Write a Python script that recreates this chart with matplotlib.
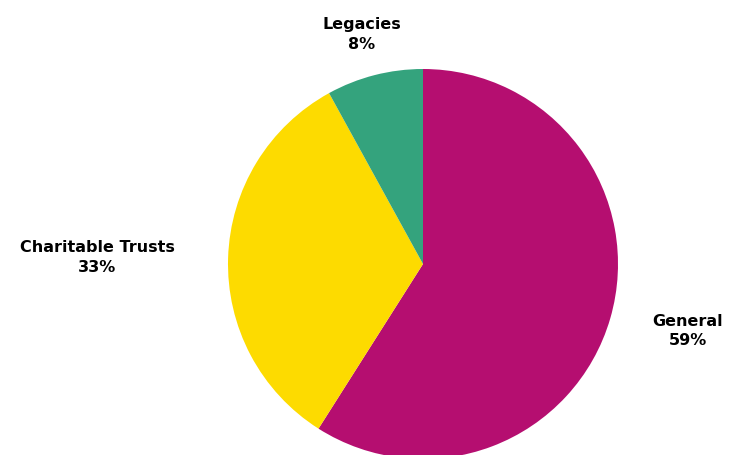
import numpy as np
import matplotlib.pyplot as plt

plt.rcParams['font.family'] = ['DejaVu Sans']

# data
categories = ['General', 'Charitable Trusts', 'Legacies']
shares = [59, 33, 8]
colors = ['#B50E70', '#FDDB00', '#34A37D']

# label placement: distance (in radii) and small angle tweak (deg)
label_dist = [1.40, 1.67, 1.22]
label_turn = [2.0, 0.6, 0.6]

fig = plt.figure(figsize=(7.3, 4.55), dpi=100)
ax = fig.add_axes([0, 0, 1, 1])

wedges, _ = ax.pie(shares, colors=colors, startangle=90, counterclock=False,
                   center=(423, 191), radius=195,
                   wedgeprops=dict(linewidth=0))

for w, name, val, d, t in zip(wedges, categories, shares, label_dist, label_turn):
    ang = np.deg2rad((w.theta1 + w.theta2) / 2 + t)
    x = w.center[0] + d * w.r * np.cos(ang)
    y = w.center[1] + d * w.r * np.sin(ang)
    ax.text(x, y, f'{name}\n{val}%', ha='center', va='center',
            fontsize=11.5, fontweight='bold', linespacing=1.4)

ax.set_xlim(0, 730)
ax.set_ylim(0, 455)
ax.set_aspect('equal')
ax.axis('off')

fig.savefig('out.png', dpi=100)
